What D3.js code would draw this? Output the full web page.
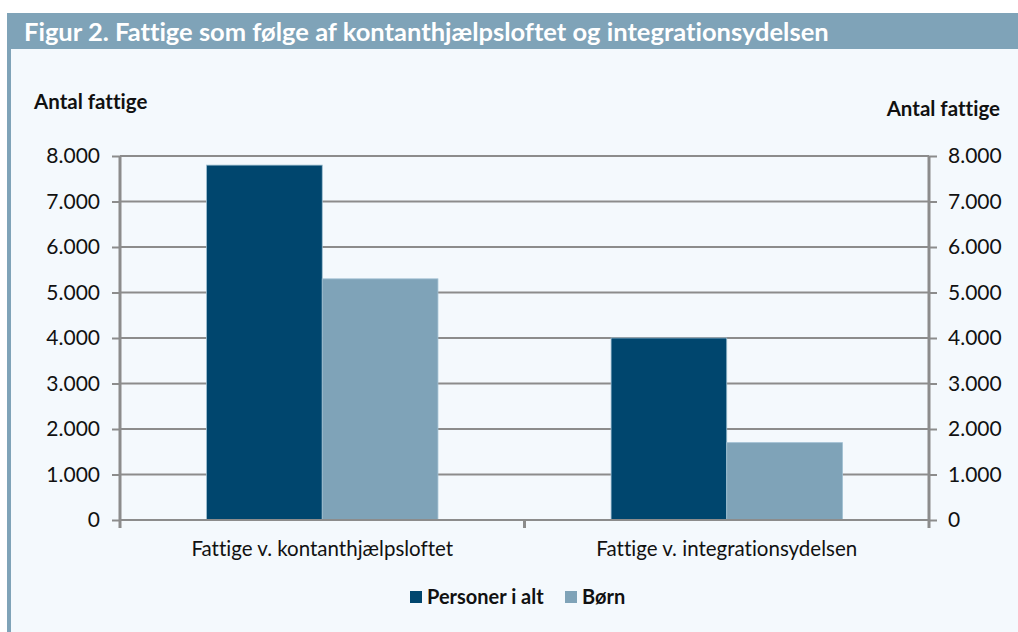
<!DOCTYPE html>
<html>
<head>
<meta charset="utf-8">
<script src="https://cdn.jsdelivr.net/npm/d3@7"></script>
<style>
  body { margin: 0; background: #fff; font-family: Lato, "Open Sans", sans-serif; }
  text { font-variant-ligatures: none; }
</style>
</head>
<body>
<div id="chart"></div>
<script>
// data
var categories = ["Fattige v. kontanthjælpsloftet", "Fattige v. integrationsydelsen"];
var seriesNames = ["Personer i alt", "Børn"];
var personerIAlt = [7800, 4000];
var boern = [5300, 1700];
var yTicks = [0, 1000, 2000, 3000, 4000, 5000, 6000, 7000, 8000];

var colors = ["#00466e", "#7fa3b8"];

var W = 1018, H = 632;
var svg = d3.select("#chart").append("svg")
  .attr("width", W).attr("height", H);

// panel + title bar
svg.append("rect").attr("x", 7).attr("y", 13).attr("width", W - 7).attr("height", H - 13)
  .attr("fill", "#f4f9fd");
svg.append("rect").attr("x", 7).attr("y", 13).attr("width", 4).attr("height", H - 13)
  .attr("fill", "#7fa3b8");
svg.append("rect").attr("x", 7).attr("y", 13).attr("width", W - 7).attr("height", 36)
  .attr("fill", "#7fa3b8");
svg.append("text").attr("x", 24).attr("y", 41)
  .attr("fill", "#fff").attr("font-size", 25.5).attr("font-weight", 700)
  .text("Figur 2. Fattige som følge af kontanthjælpsloftet og integrationsydelsen");

var pLeft = 120, pRight = 929, pTop = 156, pBottom = 520;

var x0 = d3.scaleBand().domain(categories).range([pLeft, pRight]).paddingInner(0).paddingOuter(0);
var x1 = d3.scaleBand().domain(seriesNames).range([0, x0.bandwidth()]).paddingInner(0).paddingOuter(0.7483);
var y = d3.scaleLinear().domain([0, 8000]).range([pBottom, pTop]);

var fmt = function(d) { return d3.format(",")(d).replace(/,/g, "."); };

// gridlines
svg.append("g").selectAll("line").data(yTicks.filter(function(d) { return d > 0; }))
  .enter().append("line")
  .attr("x1", pLeft).attr("x2", pRight)
  .attr("y1", function(d) { return y(d); }).attr("y2", function(d) { return y(d); })
  .attr("stroke", "#8c8c8c").attr("stroke-width", 2);

// bars
var rows = categories.map(function(c, i) {
  return { cat: c, vals: [personerIAlt[i], boern[i]] };
});
var grp = svg.append("g").selectAll("g").data(rows).enter().append("g")
  .attr("transform", function(d) { return "translate(" + x0(d.cat) + ",0)"; });
grp.selectAll("rect").data(function(d) { return d.vals.map(function(v, j) { return { s: seriesNames[j], v: v, j: j }; }); })
  .enter().append("rect")
  .attr("x", function(d) { return x1(d.s); })
  .attr("width", x1.bandwidth())
  .attr("y", function(d) { return y(d.v); })
  .attr("height", function(d) { return pBottom - y(d.v); })
  .attr("fill", function(d) { return colors[d.j]; })
  .attr("stroke", "#9fbfd2").attr("stroke-width", 0.8);

// axes
var axisL = d3.axisLeft(y).tickValues(yTicks).tickFormat(fmt).tickSize(8).tickPadding(12);
var axisR = d3.axisRight(y).tickValues(yTicks).tickFormat(fmt).tickSize(8).tickPadding(11);
var gl = svg.append("g").attr("transform", "translate(" + pLeft + ",0)").call(axisL);
var gr = svg.append("g").attr("transform", "translate(" + pRight + ",0)").call(axisR);
[gl, gr].forEach(function(g) {
  g.select(".domain").remove();
  g.selectAll(".tick line").attr("stroke", "#8c8c8c").attr("stroke-width", 2);
  g.selectAll(".tick text").attr("font-family", "Lato, sans-serif").attr("font-size", 21).attr("fill", "#111");
  g.append("line").attr("x1", 0).attr("x2", 0).attr("y1", pTop).attr("y2", pBottom + 8)
    .attr("stroke", "#8c8c8c").attr("stroke-width", 3);
});

// x axis
var xb = svg.append("g");
xb.append("line").attr("x1", pLeft).attr("x2", pRight).attr("y1", pBottom).attr("y2", pBottom)
  .attr("stroke", "#8c8c8c").attr("stroke-width", 2);
xb.append("line").attr("x1", x0(categories[1])).attr("x2", x0(categories[1]))
  .attr("y1", pBottom).attr("y2", pBottom + 8).attr("stroke", "#8c8c8c").attr("stroke-width", 3);
xb.selectAll("text").data(categories).enter().append("text")
  .attr("x", function(d) { return x0(d) + x0.bandwidth() / 2; })
  .attr("y", 556).attr("text-anchor", "middle")
  .attr("font-size", 20.5).attr("fill", "#111")
  .text(function(d) { return d; });

// axis titles
svg.append("text").attr("x", 34).attr("y", 109).attr("font-size", 20.5).attr("font-weight", 700)
  .attr("fill", "#111").text("Antal fattige");
svg.append("text").attr("x", 1000).attr("y", 116).attr("text-anchor", "end").attr("font-size", 20.5)
  .attr("font-weight", 700).attr("fill", "#111").text("Antal fattige");

// legend
var legX = [410, 565];
var leg = svg.append("g").selectAll("g").data(seriesNames).enter().append("g")
  .attr("transform", function(d, i) { return "translate(" + legX[i] + ",591)"; });
leg.append("rect").attr("width", 12).attr("height", 12)
  .attr("fill", function(d, i) { return colors[i]; });
leg.append("text").attr("x", 17).attr("y", 13).attr("font-size", 20).attr("font-weight", 700)
  .attr("fill", "#111").text(function(d) { return d; });
</script>
</body>
</html>
